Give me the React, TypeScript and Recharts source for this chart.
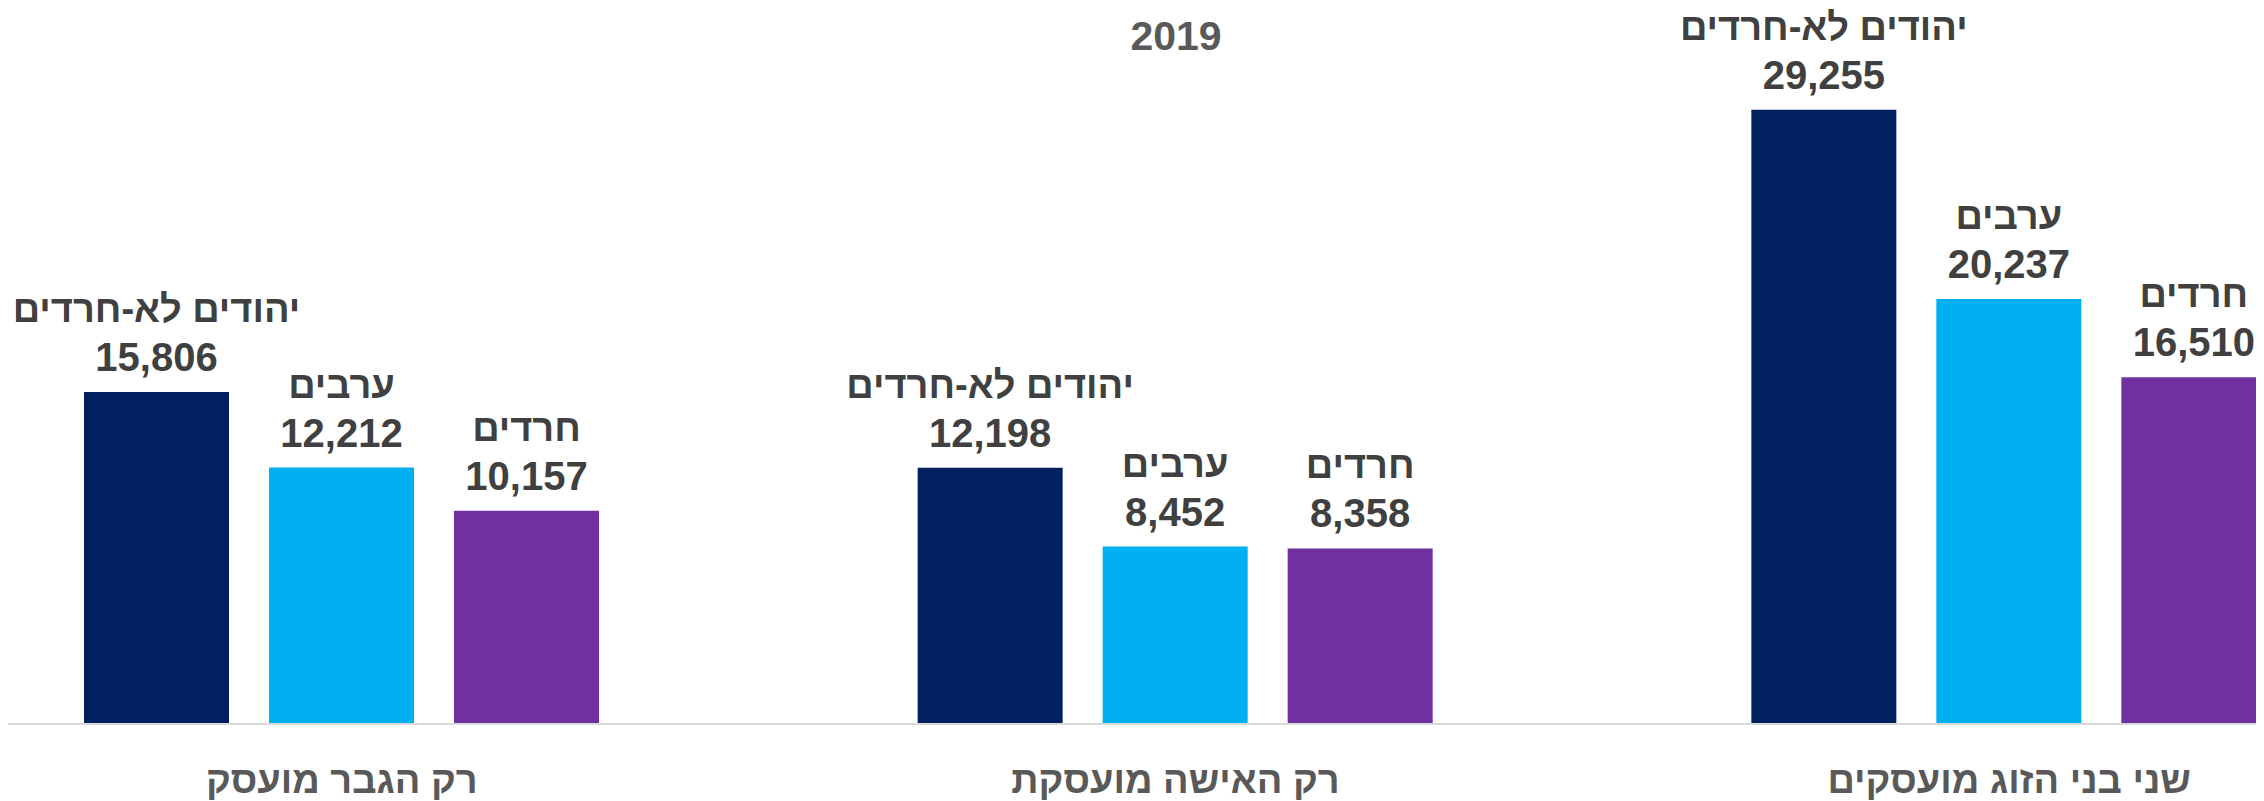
import React from 'react';
import { BarChart, Bar, XAxis, YAxis, LabelList } from 'recharts';

const categories = ['רק הגבר מועסק', 'רק האישה מועסקת', 'שני בני הזוג מועסקים'];
const seriesNames = ['יהודים לא-חרדים', 'ערבים', 'חרדים'];
const nonHarediValues = [15806, 12198, 29255];
const arabValues = [12212, 8452, 20237];
const harediValues = [10157, 8358, 16510];
const titleText = '2019';

const seriesColors = ['#002060', '#00B0F0', '#7030A0'];

const data = categories.map((c, i) => ({
  category: c,
  s0: nonHarediValues[i],
  s1: arabValues[i],
  s2: harediValues[i],
}));

const FONT = '"Liberation Sans", Arial, sans-serif';

const makeLabel = (name: string) => (props: any) => {
  const { x, y, width, value } = props;
  const cx = Number(x) + Number(width) / 2;
  const top = Number(y);
  return (
    <g>
      <text x={cx} y={top - 70} textAnchor="middle" fontFamily={FONT} fontWeight="bold" fontSize={38} fill="#404040">
        {name}
      </text>
      <text x={cx} y={top - 21} textAnchor="middle" fontFamily={FONT} fontWeight="bold" fontSize={40} fill="#404040">
        {Number(value).toLocaleString('en-US')}
      </text>
    </g>
  );
};

const CategoryTick = (props: any) => {
  const { x, payload } = props;
  return (
    <text x={x} y={785} textAnchor="middle" fontFamily={FONT} fontWeight="bold" fontSize={38} fill="#595959">
      {payload.value}
    </text>
  );
};

export default function App() {
  return (
    <div style={{ position: 'relative', width: 2256, height: 793, overflow: 'hidden' }}>
      <BarChart
        width={2256}
        height={793}
        data={data}
        margin={{ top: 86, right: -162, bottom: 0, left: -83 }}
        barSize={145}
        barGap={40}
      >
        <XAxis
          dataKey="category"
          axisLine={{ stroke: '#D9D9D9', strokeWidth: 2 }}
          tickLine={false}
          tick={<CategoryTick />}
          interval={0}
          height={77}
        />
        <YAxis hide domain={[0, 30000]} />
        <Bar dataKey="s0" fill={seriesColors[0]} isAnimationActive={false}>
          <LabelList dataKey="s0" content={makeLabel(seriesNames[0])} />
        </Bar>
        <Bar dataKey="s1" fill={seriesColors[1]} isAnimationActive={false}>
          <LabelList dataKey="s1" content={makeLabel(seriesNames[1])} />
        </Bar>
        <Bar dataKey="s2" fill={seriesColors[2]} isAnimationActive={false}>
          <LabelList dataKey="s2" content={makeLabel(seriesNames[2])} />
        </Bar>
      </BarChart>
      <svg style={{ position: 'absolute', left: 0, top: 0, pointerEvents: 'none' }} width={2256} height={80}>
        <text x={1168} y={42} textAnchor="middle" fontFamily={FONT} fontWeight="bold" fontSize={41} fill="#595959">
          {titleText}
        </text>
      </svg>
    </div>
  );
}
